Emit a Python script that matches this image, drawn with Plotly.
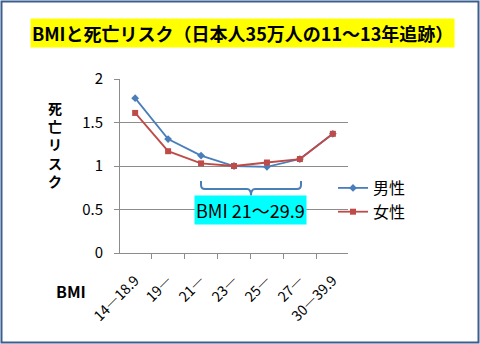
import plotly.graph_objects as go

# ---- data ----
categories = ["14―18.9", "19―", "21―", "23―", "25―", "27―", "30―39.9"]
male = [1.78, 1.31, 1.12, 1.00, 0.99, 1.08, 1.37]
female = [1.61, 1.17, 1.03, 1.00, 1.04, 1.08, 1.37]
series_names = ["男性", "女性"]
title_text = "BMIと死亡リスク（日本人35万人の11～13年追跡）"
y_title = "死亡リスク"
x_title = "BMI"
range_label = "BMI 21～29.9"

W, H = 480, 344
ML, MR, MT, MB = 120, 132, 79, 91
PW = W - ML - MR
PH = H - MT - MB

FONT = "'Noto Sans CJK JP', 'Noto Sans', sans-serif"
BLUE = "#4a7ebb"
RED = "#be4b48"
GRID = "#8c8c8c"


def px_x(p):
    return (p - ML) / PW


def px_y(p):
    return (H - MB - p) / PH


fig = go.Figure()
fig.add_trace(go.Scatter(
    x=categories, y=male, name=series_names[0], mode="lines+markers",
    line=dict(color=BLUE, width=1.8),
    marker=dict(symbol="diamond", size=6, color=BLUE),
    legendgroup="a",
))
fig.add_trace(go.Scatter(
    x=categories, y=female, name=series_names[1], mode="lines+markers",
    line=dict(color=RED, width=1.8),
    marker=dict(symbol="square", size=6, color=RED),
    legendgroup="b",
))

annotations = []
# title with yellow highlight
annotations.append(dict(
    text="<b>" + title_text + "</b>", xref="paper", yref="paper",
    x=px_x(242), y=px_y(33.5), xanchor="center", yanchor="middle",
    showarrow=False, bgcolor="#ffff00", borderpad=1,
    font=dict(family=FONT, size=18, color="#000000"),
))
# vertical y-axis title, one character per line
annotations.append(dict(
    text="<b>" + "<br>".join(y_title) + "</b>", xref="paper", yref="paper",
    x=px_x(55), y=px_y(144), xanchor="center", yanchor="middle",
    showarrow=False, font=dict(family=FONT, size=14, color="#000000"),
))
# x-axis title
annotations.append(dict(
    text="<b>" + x_title + "</b>", xref="paper", yref="paper",
    x=px_x(71), y=px_y(291), xanchor="center", yanchor="middle",
    showarrow=False, font=dict(family=FONT, size=16, color="#000000"),
))
# range label with cyan background
annotations.append(dict(
    text=range_label, xref="paper", yref="paper",
    x=px_x(250), y=px_y(210), xanchor="center", yanchor="middle",
    showarrow=False, bgcolor="#00ffff", borderpad=1,
    font=dict(family=FONT, size=18, color="#000000"),
))

# brace above range label
xl, xr, xc = px_x(201), px_x(301), px_x(251)
yt, yh, yb = px_y(181), px_y(189), px_y(195.5)
r = 4 / PW
ry = 4 / PH
brace = (
    f"M{xl},{yt} L{xl},{yh + ry} Q{xl},{yh} {xl + r},{yh} "
    f"L{xc - r},{yh} Q{xc},{yh} {xc},{yb} "
    f"Q{xc},{yh} {xc + r},{yh} L{xr - r},{yh} Q{xr},{yh} {xr},{yh + ry} L{xr},{yt}"
)
shapes = [
    dict(type="path", path=brace, xref="paper", yref="paper",
         line=dict(color=BLUE, width=2)),
    dict(type="rect", xref="paper", yref="paper",
         x0=px_x(1.5), x1=px_x(478.5), y0=px_y(1.5), y1=px_y(342.5),
         line=dict(color="#3b5f8f", width=2), layer="below"),
]

fig.update_layout(
    width=W, height=H,
    margin=dict(l=ML, r=MR, t=MT, b=MB, pad=0),
    paper_bgcolor="#ffffff", plot_bgcolor="#ffffff",
    font=dict(family=FONT, size=14, color="#000000"),
    showlegend=True,
    legend=dict(
        x=px_x(333), y=px_y(171), xanchor="left", yanchor="top",
        font=dict(family=FONT, size=16, color="#000000"),
        bgcolor="rgba(0,0,0,0)", borderwidth=0, tracegroupgap=7,
        traceorder="normal",
    ),
    xaxis=dict(
        type="category", showgrid=False, showline=True, linecolor=GRID, linewidth=1,
        ticks="outside", tickson="boundaries", ticklen=5, tickcolor=GRID,
        tickangle=-45, tickfont=dict(family=FONT, size=14, color="#000000"),
        ticklabelstandoff=13, zeroline=False, fixedrange=True,
    ),
    yaxis=dict(
        range=[0, 2], dtick=0.5, showgrid=True, gridcolor=GRID, gridwidth=1,
        showline=True, linecolor=GRID, linewidth=1, ticks="outside", ticklen=5,
        tickcolor=GRID, tickfont=dict(family=FONT, size=15, color="#000000"),
        ticklabelstandoff=8, zeroline=False, fixedrange=True,
    ),
    annotations=annotations,
    shapes=shapes,
)

fig.write_html("out.html")
